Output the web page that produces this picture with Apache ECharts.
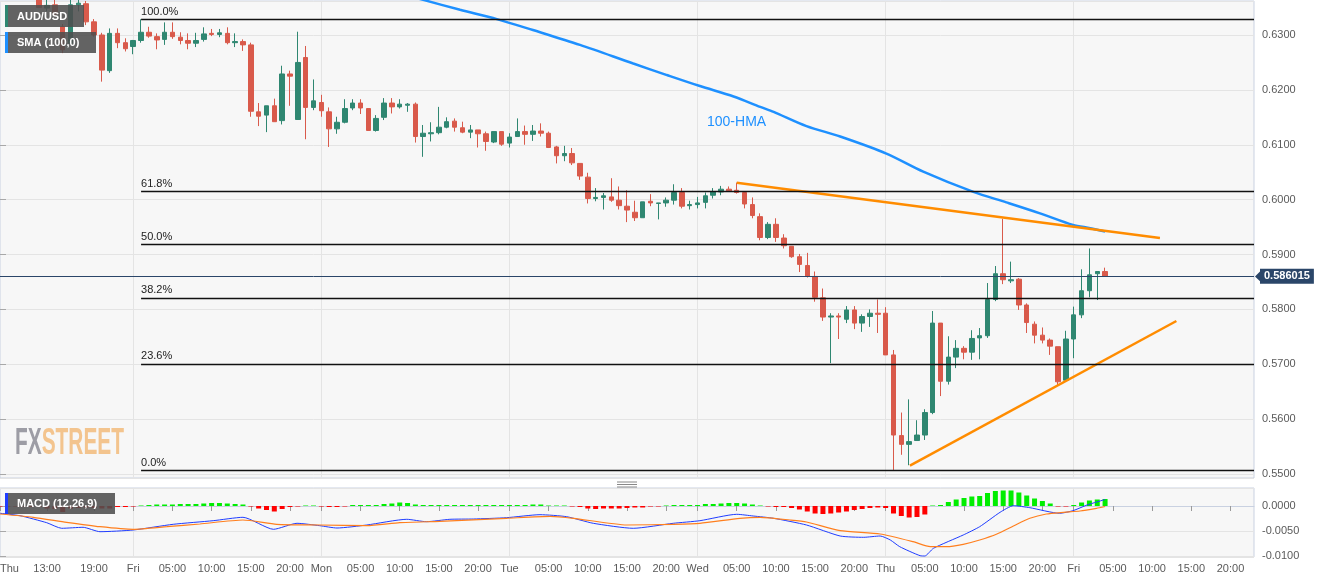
<!DOCTYPE html>
<html><head><meta charset="utf-8">
<script src="https://cdn.jsdelivr.net/npm/echarts@6/dist/echarts.min.js"></script>
<style>html,body{margin:0;padding:0;background:#fff;}#c{width:1331px;height:583px;}</style>
</head><body><div id="c"></div>
<script>
// hourly slots: slot 0 = Thu 07:00 (weekend hours skipped)
const firstSlot = 5;
const opens = [
0.6369,0.6349,0.6355,0.6315,0.6285,0.6355,0.6357,0.6324,0.6300,0.6235,
0.6303,0.6286,0.6279,0.6290,0.6305,0.6297,0.6292,0.6305,0.6296,0.6290,
0.6285,0.6292,0.6303,0.6301,0.6303,0.6286,0.6288,0.6282,0.6160,0.6154,
0.6171,0.6144,0.6229,0.6146,0.6259,0.6168,0.6177,0.6160,0.6129,0.6141,
0.6167,0.6176,0.6166,0.6126,0.6150,0.6176,0.6169,0.6172,0.6174,0.6115,
0.6120,0.6122,0.6132,0.6143,0.6131,0.6123,0.6127,0.6120,0.6105,0.6124,
0.6103,0.6115,0.6124,0.6119,0.6125,0.6121,0.6096,0.6080,0.6084,0.6066,
0.6041,0.6002,0.6004,0.6005,0.5999,0.5988,0.5977,0.5967,0.5997,0.5993,
0.5994,0.5999,0.6013,0.5989,0.5991,0.5995,0.6008,0.6014,0.6019,0.6017,
0.6013,0.5991,0.5969,0.5931,0.5955,0.5930,0.5915,0.5896,0.5880,0.5860,
0.5821,0.5786,0.5788,0.5782,0.5799,0.5775,0.5787,0.5793,0.5793,0.5717,
0.5570,0.5554,0.5561,0.5571,0.5612,0.5775,0.5669,0.5713,0.5729,0.5722,
0.5748,0.5752,0.5818,0.5865,0.5852,0.5855,0.5808,0.5773,0.5753,0.5744,
0.5732,0.5671,0.5746,0.5790,0.5834,0.5865,0.5869];
const closes = [
0.6350,0.6354,0.6338,0.6273,0.6355,0.6358,0.6324,0.6300,0.6236,0.6303,
0.6286,0.6275,0.6290,0.6305,0.6298,0.6291,0.6305,0.6297,0.6290,0.6285,
0.6290,0.6302,0.6301,0.6304,0.6286,0.6288,0.6282,0.6161,0.6152,0.6171,
0.6142,0.6229,0.6225,0.6250,0.6168,0.6180,0.6162,0.6129,0.6141,0.6166,
0.6176,0.6167,0.6126,0.6148,0.6176,0.6169,0.6174,0.6174,0.6115,0.6121,
0.6122,0.6132,0.6142,0.6132,0.6123,0.6127,0.6120,0.6106,0.6124,0.6101,
0.6114,0.6124,0.6119,0.6125,0.6121,0.6095,0.6080,0.6084,0.6067,0.6043,
0.6002,0.6004,0.6007,0.5999,0.5989,0.5981,0.5967,0.5996,0.5994,0.5994,
0.5999,0.6013,0.5988,0.5991,0.5994,0.6007,0.6014,0.6019,0.6016,0.6013,
0.5992,0.5971,0.5931,0.5955,0.5931,0.5916,0.5896,0.5882,0.5860,0.5822,
0.5786,0.5788,0.5786,0.5799,0.5775,0.5787,0.5793,0.5791,0.5717,0.5571,
0.5554,0.5559,0.5571,0.5612,0.5775,0.5669,0.5713,0.5729,0.5722,0.5747,
0.5752,0.5818,0.5865,0.5854,0.5854,0.5808,0.5776,0.5753,0.5744,0.5733,
0.5668,0.5746,0.5790,0.5834,0.5863,0.5869,0.586015];
const lows = [
0.6349,0.6343,0.6333,0.6267,0.6282,0.6343,0.6318,0.6297,0.6215,0.6231,
0.6276,0.6270,0.6265,0.6286,0.6295,0.6274,0.6282,0.6293,0.6283,0.6274,
0.6278,0.6288,0.6298,0.6296,0.6283,0.6278,0.6271,0.6151,0.6134,0.6123,
0.6142,0.6137,0.6171,0.6146,0.6110,0.6163,0.6151,0.6096,0.6120,0.6139,
0.6163,0.6156,0.6126,0.6124,0.6145,0.6157,0.6166,0.6160,0.6104,0.6078,
0.6106,0.6119,0.6130,0.6124,0.6121,0.6112,0.6095,0.6089,0.6103,0.6098,
0.6095,0.6115,0.6100,0.6107,0.6115,0.6094,0.6066,0.6070,0.6063,0.6036,
0.5993,0.5997,0.5982,0.5996,0.5982,0.5959,0.5961,0.5967,0.5988,0.5964,
0.5987,0.5991,0.5984,0.5982,0.5984,0.5984,0.6002,0.6008,0.6014,0.6011,
0.5984,0.5966,0.5926,0.5928,0.5923,0.5911,0.5894,0.5868,0.5858,0.5814,
0.5779,0.5702,0.5746,0.5775,0.5764,0.5759,0.5768,0.5757,0.5717,0.55075,
0.5535,0.5516,0.5561,0.5562,0.5609,0.5642,0.5663,0.5693,0.5709,0.5708,
0.5709,0.5748,0.5815,0.5846,0.5848,0.5799,0.5757,0.5738,0.5738,0.5717,
0.5662,0.5668,0.5711,0.5784,0.5822,0.5817,0.5860];
const highs = [
0.6373,0.6366,0.6366,0.6320,0.6364,0.6366,0.6362,0.6329,0.6304,0.6312,
0.6312,0.6294,0.6291,0.63286,0.6315,0.6303,0.6323,0.6323,0.6305,0.6303,
0.6304,0.6314,0.6311,0.6311,0.6314,0.6303,0.6292,0.6286,0.6176,0.6171,
0.6184,0.6244,0.6235,0.6306,0.6280,0.6219,0.6191,0.6168,0.6151,0.6183,
0.6183,0.6183,0.6166,0.6154,0.6185,0.6185,0.6183,0.6176,0.6177,0.6136,
0.6141,0.6169,0.6150,0.6148,0.6142,0.6136,0.6127,0.6124,0.6124,0.6124,
0.6121,0.6148,0.6135,0.6136,0.6139,0.6124,0.6098,0.6098,0.6094,0.6066,
0.6049,0.6021,0.6012,0.6039,0.6024,0.6017,0.5998,0.5996,0.6010,0.5994,
0.6004,0.6028,0.6021,0.5998,0.6005,0.6013,0.6021,0.6025,0.6024,0.6031,
0.6013,0.6004,0.5975,0.5959,0.5966,0.5937,0.5915,0.5901,0.5903,0.5869,
0.5838,0.5793,0.5793,0.5806,0.5806,0.5791,0.5800,0.5818,0.5804,0.5726,
0.5612,0.5636,0.5598,0.5618,0.5797,0.5775,0.5751,0.5744,0.5733,0.5762,
0.5766,0.5848,0.5879,0.5965,0.5887,0.5857,0.5811,0.5778,0.5767,0.5747,
0.5732,0.5761,0.5805,0.5873,0.5911,0.5869,0.5876];

// MACD histogram, slots 0..141
const macdHist = [
-0.0001,-0.0001,-0.0001,-0.0001,-0.0002,-0.0002,-0.0005,-0.0006,-0.0012,-0.0005,
-0.0004,-0.0003,-0.0004,-0.0005,-0.0005,-0.0002,-0.0002,-0.0001,0.0001,0.0002,
0.0003,0.0003,0.0003,0.0004,0.0004,0.0004,0.0005,0.0006,0.0006,0.0005,
0.0004,0.0003,-0.0001,-0.0005,-0.0008,-0.0011,-0.0006,-0.0002,-0.0001,0.0001,
0.0001,-0.0001,-0.0002,-0.0002,-0.0001,0.0002,0.0002,0.0002,0.0002,0.0004,
0.0005,0.0007,0.0006,0.0003,0.0002,0.0002,0.0002,0.0002,0.0002,0.0002,
0.0002,0.0002,0.0002,0.0002,0.0002,0.0002,0.0002,0.0002,0.0003,0.0003,
0.0001,0.0001,0.0001,-0.0001,-0.0002,-0.0005,-0.0006,-0.0005,-0.0005,-0.0005,
-0.0004,-0.0003,-0.0003,-0.0001,-0.0001,0.0001,0.0002,0.0002,0.0002,0.0002,
0.0004,0.0004,0.0005,0.0006,0.0006,0.0005,0.0003,0.0001,-0.0001,-0.0002,
-0.0002,-0.0004,-0.0007,-0.0011,-0.0015,-0.0016,-0.0015,-0.0013,-0.0011,-0.0008,
-0.0006,-0.0004,-0.0003,-0.0004,-0.0015,-0.0020,-0.0023,-0.0022,-0.0017,0.0001,
0.0002,0.0008,0.0013,0.0016,0.0019,0.0020,0.0026,0.0030,0.0031,0.0031,
0.0027,0.0021,0.0015,0.0010,0.0005,-0.0001,-0.0001,0.0002,0.0007,0.0011,
0.0013,0.0014];
const macdLine = [[0,-0.00146],[2.55,-0.00194],[5.96,-0.00334],[7.87,-0.00446],[10.6,-0.00426],[12.76,-0.00514],[17.0,-0.0048],[22.1,-0.00366],[27.2,-0.00294],[31.0,-0.00226],[34.9,-0.00466],[37.9,-0.00346],[40.8,-0.00394],[43.0,-0.0044],[46.8,-0.0038],[51.9,-0.00266],[54.4,-0.00314],[57.4,-0.00266],[60.4,-0.0026],[64.6,-0.00234],[68.9,-0.00174],[72.3,-0.00214],[75.7,-0.00346],[80.8,-0.00446],[85.9,-0.00346],[89.3,-0.00294],[94.0,-0.00166],[96.1,-0.002],[98.7,-0.00246],[102.9,-0.0038],[107.2,-0.006],[110.2,-0.00626],[112.3,-0.006],[113.6,-0.0068],[114.8,-0.00814],[117.4,-0.00994],[118.0,-0.01],[119.1,-0.00846],[122.9,-0.0058],[125.0,-0.00414],[127.6,-0.00126],[129.3,0.00006],[131.4,-0.00034],[135.2,-0.00146],[136.9,-0.00094],[138.7,0.0002],[141.0,0.0013]];
const signalLine = [[0,-0.0016],[4.25,-0.00226],[8.5,-0.00326],[12.76,-0.00414],[17.0,-0.00466],[21.3,-0.00414],[25.5,-0.0036],[31.0,-0.0028],[35.3,-0.00366],[40.8,-0.0038],[46.8,-0.00394],[51.0,-0.00334],[56.1,-0.00306],[64.6,-0.00246],[70.2,-0.00206],[73.2,-0.00246],[80.0,-0.0038],[85.9,-0.00366],[89.3,-0.00346],[94.4,-0.00246],[97.0,-0.00226],[100.8,-0.0028],[102.9,-0.0032],[107.2,-0.00494],[112.3,-0.0056],[116.5,-0.00714],[118.7,-0.00814],[120.8,-0.00814],[122.9,-0.00766],[125.0,-0.0068],[127.2,-0.0056],[129.3,-0.004],[131.4,-0.00246],[133.5,-0.0016],[135.7,-0.00126],[137.8,-0.001],[139.9,-0.00046],[141.0,-0.0001]];
const hma100 = [[52.0,0.6372],[54.0,0.6364],[58.7,0.6346],[63.4,0.6329],[68.0,0.6309],[74.0,0.6282],[80.8,0.6248],[85.1,0.6227],[89.3,0.6207],[93.6,0.6188],[97.0,0.6169],[98.7,0.6160],[102.9,0.6134],[107.2,0.6115],[113.1,0.6084],[117.8,0.6051],[124.2,0.6014],[128.4,0.5995],[132.7,0.5975],[136.9,0.5954],[139.1,0.5948],[141.0,0.5942]];
const upperTrend = [[94.0,0.60308],[148.0,0.59301]];
const lowerTrend = [[116.1,0.55151],[150.1,0.57788]];
const fibLevels = [0.63286,0.60147,0.59178,0.58209,0.57009,0.55073];
const fibLabels = ['100.0%','61.8%','50.0%','38.2%','23.6%','0.0%'];
const fibStartSlot = 18;
const lastPrice = 0.586015;
const tickSlots = [0,6,12,17,22,27,32,37,41,46,51,56,61,65,70,75,80,85,89,94,99,104,109,113,118,123,128,133,137,142,147,152,157];
const tickTexts = ['Thu','13:00','19:00','Fri','05:00','10:00','15:00','20:00','Mon','05:00','10:00','15:00','20:00','Tue','05:00','10:00','15:00','20:00','Wed','05:00','10:00','15:00','20:00','Thu','05:00','10:00','15:00','20:00','Fri','05:00','10:00','15:00','20:00'];
const daySlots = [17,41,65,89,113,137];

const NSLOT = 161;
const cats = Array.from({length: NSLOT}, (_, i) => String(i));
const tickMap = {}; tickSlots.forEach((s, i) => { tickMap[s] = tickTexts[i]; });
const candleData = opens.map((o, i) => [firstSlot + i, o, closes[i], lows[i], highs[i]]);

const UP = '#2f8771', DOWN = '#d95a4b';
const FONT = '"Liberation Sans", Arial, sans-serif';
const gridLine = '#e4e4e4', border = '#c9d1e1';

const fibMarks = fibLevels.map((lv, i) => [
  {coord: [fibStartSlot, lv], label: {show: true, formatter: fibLabels[i], position: 'insideStartTop', distance: [0, 2], color: '#222', fontSize: 11, fontFamily: FONT}},
  {coord: [NSLOT - 1, lv]}
]);

const chart = echarts.init(document.getElementById('c'), null, {renderer: 'canvas'});
chart.setOption({
  animation: false,
  backgroundColor: '#ffffff',
  grid: [
    {left: 0, width: 1254, top: 1, height: 477, show: true, backgroundColor: '#f7f7f7', borderColor: border, borderWidth: 1, containLabel: false, outerBoundsMode: 'none'},
    {left: 0, width: 1254, top: 488, height: 69, show: true, backgroundColor: '#f7f7f7', borderColor: border, borderWidth: 1, containLabel: false, outerBoundsMode: 'none'}
  ],
  xAxis: [
    {type: 'category', gridIndex: 0, data: cats, boundaryGap: false,
     axisLine: {show: false}, axisTick: {show: false}, axisLabel: {show: false},
     splitLine: {show: true, interval: (i) => daySlots.indexOf(i) >= 0, lineStyle: {color: gridLine, width: 1}}},
    {type: 'category', gridIndex: 1, data: cats, boundaryGap: false,
     axisLine: {show: true, lineStyle: {color: border}},
     axisTick: {show: true, interval: (i) => tickMap[i] !== undefined, length: 5, lineStyle: {color: '#9a9a9a'}},
     axisLabel: {show: true, interval: (i) => tickMap[i] !== undefined, formatter: (v) => tickMap[+v] || '',
       margin: 6, fontSize: 11, fontFamily: FONT, color: '#5a5a5a', alignMinLabel: 'left', hideOverlap: false},
     splitLine: {show: true, interval: (i) => daySlots.indexOf(i) >= 0, lineStyle: {color: gridLine, width: 1}}},
    {type: 'value', gridIndex: 0, min: 0, max: NSLOT - 1, show: false},
    {type: 'value', gridIndex: 1, min: 0, max: NSLOT - 1, show: false}
  ],
  yAxis: [
    {type: 'value', gridIndex: 0, position: 'right', min: 0.549271, max: 0.636196, minInterval: 0.01, maxInterval: 0.01, splitNumber: 9,
     axisLine: {show: false}, axisTick: {show: true, length: 6, lineStyle: {color: '#a8a8a8'}},
     axisLabel: {formatter: (v) => v.toFixed(4), showMinLabel: false, showMaxLabel: false, margin: 8, fontSize: 11, fontFamily: FONT, color: '#5a5a5a'},
     splitLine: {show: true, lineStyle: {color: gridLine, width: 1}}},
    {type: 'value', gridIndex: 1, position: 'right', min: -0.0102, max: 0.0036, minInterval: 0.005, maxInterval: 0.005, splitNumber: 3,
     axisLine: {show: false}, axisTick: {show: true, length: 6, lineStyle: {color: '#a8a8a8'}},
     axisLabel: {formatter: (v) => v.toFixed(4), showMinLabel: false, showMaxLabel: false, margin: 8, fontSize: 11, fontFamily: FONT, color: '#5a5a5a'},
     splitLine: {show: true, lineStyle: {color: gridLine, width: 1}}}
  ],
  series: [
    {type: 'candlestick', name: 'AUD/USD', xAxisIndex: 0, yAxisIndex: 0, data: candleData,
     encode: {x: 0, y: [1, 2, 3, 4]}, barWidth: 5, z: 2,
     itemStyle: {color: UP, color0: DOWN, borderColor: UP, borderColor0: DOWN, borderWidth: 1}},
    {type: 'line', name: '100-HMA', xAxisIndex: 2, yAxisIndex: 0, data: hma100, showSymbol: false, smooth: 0.3, z: 3,
     lineStyle: {color: '#1e90ff', width: 2.5},
     markLine: {silent: true, symbol: ['none', 'none'], animation: false,
       lineStyle: {color: '#111', width: 1.3, type: 'solid'},
       data: fibMarks.concat([
         [{coord: [0, lastPrice], lineStyle: {color: '#2b4669', width: 1}, label: {show: true, position: 'end', distance: 6, formatter: '0.586015',
            backgroundColor: '#2b4669', color: '#fff', fontWeight: 'bold', fontSize: 11, fontFamily: FONT, padding: [2, 4]}},
          {coord: [NSLOT - 1, lastPrice]}]
       ])}},
    {type: 'line', xAxisIndex: 2, yAxisIndex: 0, data: upperTrend, showSymbol: false, z: 4, lineStyle: {color: '#ff8c00', width: 2.5}},
    {type: 'line', xAxisIndex: 2, yAxisIndex: 0, data: lowerTrend, showSymbol: false, z: 4, lineStyle: {color: '#ff8c00', width: 2.5}},
    {type: 'bar', name: 'hist', xAxisIndex: 1, yAxisIndex: 1, data: macdHist, barWidth: 5,
     itemStyle: {color: (p) => p.value >= 0 ? '#00ee00' : '#ff0000'}},
    {type: 'line', name: 'MACD', xAxisIndex: 3, yAxisIndex: 1, data: macdLine, showSymbol: false, smooth: 0.2, lineStyle: {color: '#1f3cff', width: 1}},
    {type: 'line', name: 'Signal', xAxisIndex: 3, yAxisIndex: 1, data: signalLine, showSymbol: false, smooth: 0.2, lineStyle: {color: '#ff7f1e', width: 1.2}}
  ],
  graphic: {elements: [
    {type: 'rect', z: 100, shape: {x: 5, y: 5, width: 79, height: 22}, style: {fill: 'rgba(78,78,78,0.88)'}},
    {type: 'rect', z: 101, shape: {x: 5, y: 5, width: 3, height: 22}, style: {fill: UP}},
    {type: 'text', z: 101, x: 17, y: 16.5, style: {text: 'AUD/USD', fill: '#fff', font: 'bold 11px ' + FONT, align: 'left', verticalAlign: 'middle'}},
    {type: 'rect', z: 100, shape: {x: 5, y: 32, width: 91, height: 21}, style: {fill: 'rgba(78,78,78,0.88)'}},
    {type: 'rect', z: 101, shape: {x: 5, y: 32, width: 3, height: 21}, style: {fill: '#1e90ff'}},
    {type: 'text', z: 101, x: 17, y: 43, style: {text: 'SMA (100,0)', fill: '#fff', font: 'bold 11px ' + FONT, align: 'left', verticalAlign: 'middle'}},
    {type: 'rect', z: 100, shape: {x: 5, y: 493, width: 110, height: 21}, style: {fill: 'rgba(78,78,78,0.88)'}},
    {type: 'rect', z: 101, shape: {x: 5, y: 493, width: 3, height: 21}, style: {fill: '#1f3cff'}},
    {type: 'text', z: 101, x: 17, y: 504, style: {text: 'MACD (12,26,9)', fill: '#fff', font: 'bold 11px ' + FONT, align: 'left', verticalAlign: 'middle'}},
    {type: 'text', z: 50, x: 15, y: 444, scaleX: 0.58, style: {text: '{a|FX}{b|STREET}', font: 'bold 36px ' + FONT, verticalAlign: 'middle',
       rich: {a: {fill: '#9d9da5', font: 'bold 36px ' + FONT}, b: {fill: '#f3c48e', font: 'bold 36px ' + FONT}}}},
    {type: 'text', z: 50, x: 707, y: 122, style: {text: '100-HMA', fill: '#1e90ff', font: '14px ' + FONT, verticalAlign: 'middle'}},
    {type: 'polygon', z: 60, shape: {points: [[1255, 276.4], [1260, 271.5], [1260, 281.3]]}, style: {fill: '#2b4669'}},
    {type: 'line', z: 60, shape: {x1: 617, y1: 482, x2: 637, y2: 482}, style: {stroke: '#888', lineWidth: 1}},
    {type: 'line', z: 60, shape: {x1: 617, y1: 484.5, x2: 637, y2: 484.5}, style: {stroke: '#888', lineWidth: 1}},
    {type: 'line', z: 60, shape: {x1: 617, y1: 487, x2: 637, y2: 487}, style: {stroke: '#888', lineWidth: 1}}
  ]}
});
</script></body></html>
